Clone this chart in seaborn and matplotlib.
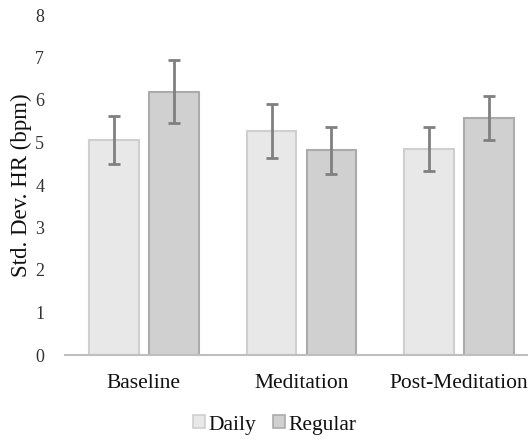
import matplotlib
matplotlib.use("Agg")
import matplotlib.pyplot as plt
import seaborn as sns
import pandas as pd
import numpy as np

# Heart-rate variability summary per session phase
phases = ["Baseline", "Meditation", "Post-Meditation"]
groups = ["Daily", "Regular"]
daily_mean = [5.06, 5.27, 4.85]
regular_mean = [6.19, 4.82, 5.58]
daily_err = [0.57, 0.64, 0.52]
regular_err = [0.74, 0.55, 0.52]

df = pd.DataFrame({
    "phase": phases * 2,
    "group": [groups[0]] * 3 + [groups[1]] * 3,
    "value": daily_mean + regular_mean,
    "err": daily_err + regular_err,
})

sns.set_theme(style="white")
plt.rcParams["font.family"] = ["Liberation Serif", "DejaVu Serif"]

fig = plt.figure(figsize=(5.28, 4.41), dpi=100)
ax = fig.add_axes([65 / 528, 86 / 441, 473 / 528, 340 / 441])

palette = {"Daily": "#e8e8e8", "Regular": "#d0d0d0"}
edges = {"Daily": "#cfcfcf", "Regular": "#ababab"}

sns.barplot(data=df, x="phase", y="value", hue="group", order=phases,
            hue_order=groups, palette=palette, width=0.76, gap=0.17,
            errorbar=None, legend=False, ax=ax, linewidth=1.5)

# edge colours and error bars at each bar's centre
for container, g in zip(ax.containers, groups):
    sub = df[df["group"] == g].set_index("phase").loc[phases]
    xs = []
    for bar in container:
        bar.set_edgecolor(edges[g])
        xs.append(bar.get_x() + bar.get_width() / 2)
    ax.errorbar(xs, sub["value"].values, yerr=sub["err"].values, fmt="none",
                ecolor="#808080", elinewidth=2, capsize=4, capthick=2,
                zorder=5)

ax.set_ylim(0, 8)
ax.set_xlim(-0.5, 2.5)
ax.set_yticks(range(0, 9))
ax.tick_params(axis="y", labelsize=13, labelcolor="#333333", length=0, pad=15)
ax.tick_params(axis="x", labelsize=15.5, labelcolor="#111111", length=0, pad=14)
ax.set_xlabel("")
ax.set_ylabel("Std. Dev. HR (bpm)", fontsize=16.5, color="#111111", labelpad=2)

for side in ["top", "right", "left"]:
    ax.spines[side].set_visible(False)
ax.spines["bottom"].set_color("#bfbfbf")
ax.spines["bottom"].set_linewidth(1.5)

handles = [plt.Rectangle((0, 0), 1, 1, facecolor=palette[g], edgecolor=edges[g],
                         linewidth=1.2) for g in groups]
fig.legend(handles, groups, loc="center", bbox_to_anchor=(275 / 528, 1 - 425 / 441),
           ncol=2, frameon=False, fontsize=15.5, handlelength=0.55, handleheight=0.55,
           handletextpad=0.15, columnspacing=0.8, labelcolor="#111111")

fig.savefig("out.png", dpi=100)
